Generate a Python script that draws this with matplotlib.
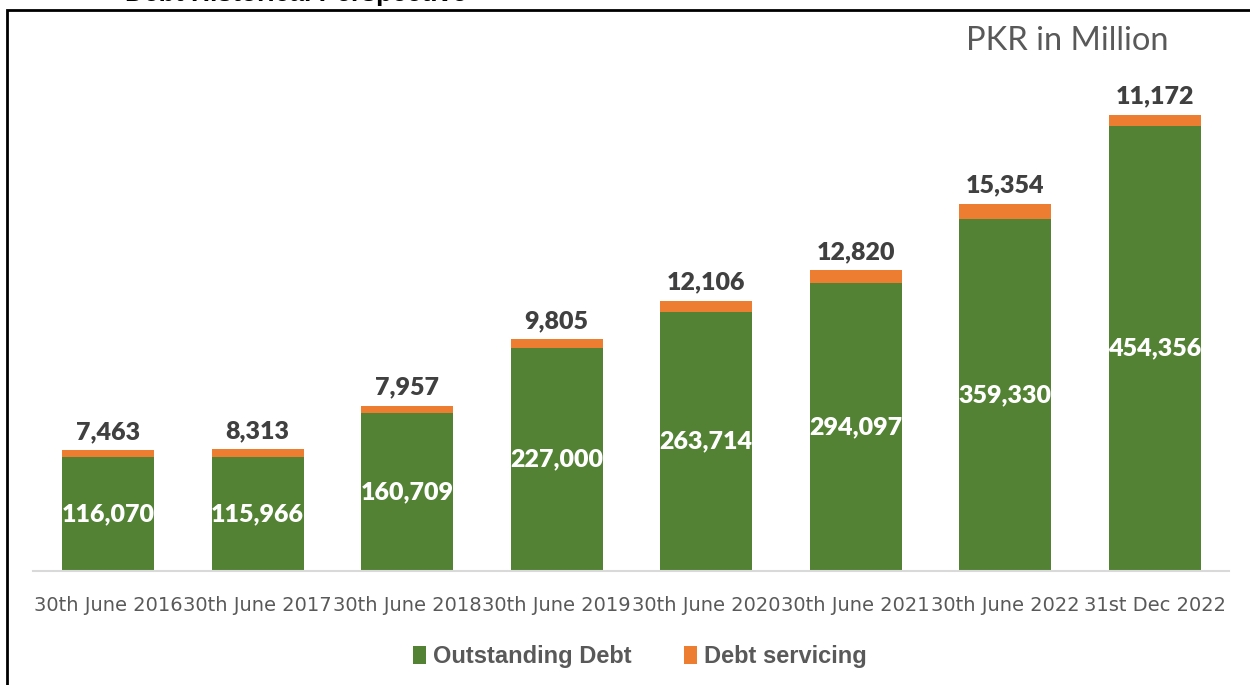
import matplotlib
matplotlib.use("Agg")
import matplotlib.pyplot as plt
import matplotlib.patches as mpatches
import numpy as np

# data (PKR in Million)
dates = ["30th June 2016", "30th June 2017", "30th June 2018", "30th June 2019",
         "30th June 2020", "30th June 2021", "30th June 2022", "31st Dec 2022"]
outstanding = [116070, 115966, 160709, 227000, 263714, 294097, 359330, 454356]
servicing = [7463, 8313, 7957, 9805, 12106, 12820, 15354, 11172]

green = "#548235"
orange = "#ED7D31"
grey = "#595959"

W, H = 1250, 685
fig = plt.figure(figsize=(W / 100, H / 100), dpi=100)
# axes placed in pixels: x from 33 to 1229, baseline at y=571, top at y=30
ax = fig.add_axes([33.3 / W, (H - 571) / H, (1229.3 - 33.3) / W, (571 - 30) / H])

x = np.arange(len(dates))
bw = 0.615
b1 = ax.bar(x, outstanding, bw, color=green, label="Outstanding Debt", zorder=2)
b2 = ax.bar(x, servicing, bw, bottom=outstanding, color=orange,
            label="Debt servicing", zorder=2)

ax.set_xlim(-0.5, len(dates) - 0.5)
ax.set_ylim(0, 551800)

num_font = ["Lato", "DejaVu Sans"]
for i in range(len(dates)):
    ax.text(x[i], outstanding[i] / 2, f"{outstanding[i]:,}", ha="center", va="center",
            color="white", fontsize=18, fontweight="heavy", family=num_font, zorder=3)
    ax.annotate(f"{servicing[i]:,}", (x[i], outstanding[i] + servicing[i]),
                xytext=(0, 5), textcoords="offset points", ha="center", va="bottom",
                color="#404040", fontsize=18, fontweight="heavy", family=num_font)

for s in ["top", "right", "left"]:
    ax.spines[s].set_visible(False)
ax.spines["bottom"].set_color("#D9D9D9")
ax.spines["bottom"].set_linewidth(1.5)
ax.set_yticks([])
ax.set_xticks(x)
ax.set_xticklabels(dates, fontsize=14, color=grey, family="DejaVu Sans")
ax.tick_params(axis="x", length=0, pad=18)

fig.text(1168 / W, 1 - 41 / H, "PKR in Million", ha="right", va="center",
         fontsize=23.5, color=grey, family=num_font)

leg = fig.legend(handles=[b1, b2], loc="center", bbox_to_anchor=(640 / W, 1 - 657 / H),
                 ncol=2, frameon=False, handlelength=0.55, handleheight=0.8,
                 handletextpad=0.3, columnspacing=2.2,
                 prop={"family": "Liberation Sans", "weight": "bold", "size": 17})
for t in leg.get_texts():
    t.set_color(grey)

# outer frame of the original page (cut off at right/bottom)
frame = mpatches.Rectangle((7 / W, -0.1), 1.2, 1.1 - 10 / H, transform=fig.transFigure,
                           fill=False, edgecolor="black", linewidth=2)
fig.add_artist(frame)

# title of the page, mostly cut off at the top
fig.text(125 / W, 1 - 1 / H, "Debt Historical Perspective", ha="left", va="baseline",
         fontsize=19, fontweight="bold", color="black", family="Liberation Sans")

fig.savefig("out.png", dpi=100)
